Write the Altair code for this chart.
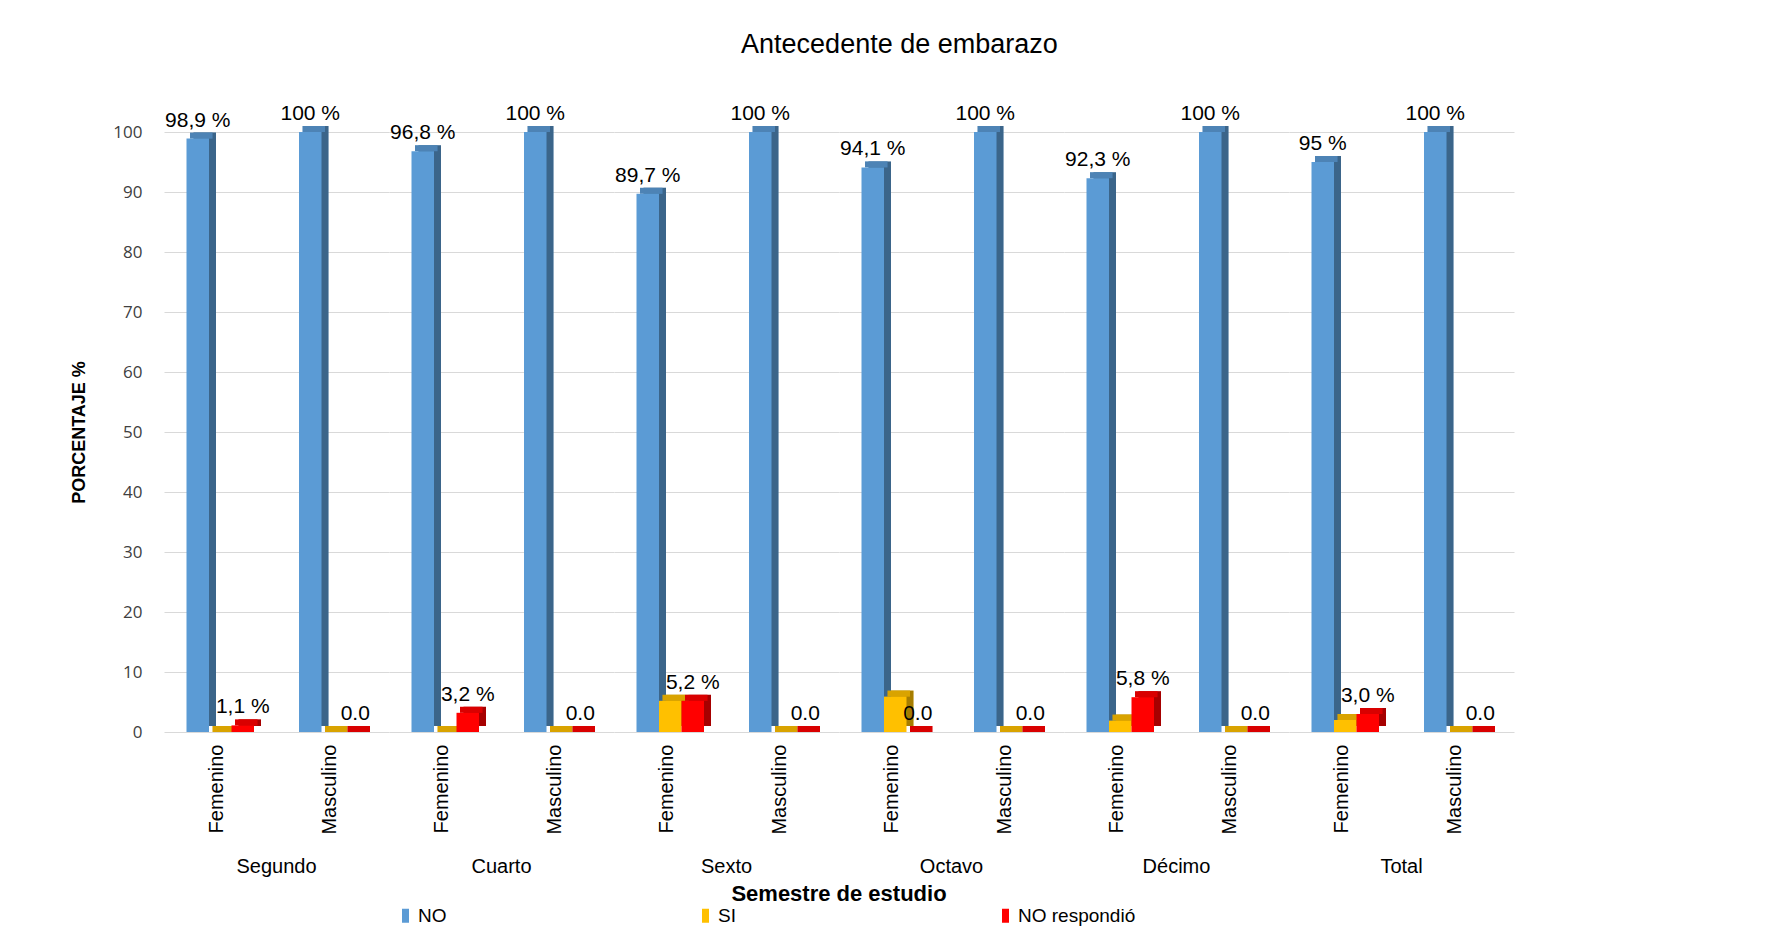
import altair as alt
import pandas as pd

semesters = ["Segundo", "Cuarto", "Sexto", "Octavo", "Décimo", "Total"]
sexes = ["Femenino", "Masculino"]
series = ["NO", "SI", "NO respondió"]
colors = ["#5B9BD5", "#FFC000", "#FF0000"]

# one value per (semester, sex), in order Segundo-F, Segundo-M, Cuarto-F, ...
no_vals = [98.9, 100, 96.8, 100, 89.7, 100, 94.1, 100, 92.3, 100, 95, 100]
si_vals = [0, 0, 0, 0, 5.2, 0, 5.9, 0, 1.9, 0, 2.0, 0]
nr_vals = [1.1, 0, 3.2, 0, 5.2, 0, 0, 0, 5.8, 0, 3.0, 0]
no_labels = ["98,9 %", "100 %", "96,8 %", "100 %", "89,7 %", "100 %",
             "94,1 %", "100 %", "92,3 %", "100 %", "95 %", "100 %"]
nr_labels = ["1,1 %", "0.0", "3,2 %", "0.0", "5,2 %", "0.0",
             "0.0", "0.0", "5,8 %", "0.0", "3,0 %", "0.0"]

rows = []
for si, sem in enumerate(semesters):
    for xi, sex in enumerate(sexes):
        i = 2 * si + xi
        vals = [no_vals[i], si_vals[i], nr_vals[i]]
        labs = [no_labels[i], "", nr_labels[i]]
        for k, ser in enumerate(series):
            rows.append({"semestre": sem, "sexo": sex, "serie": ser,
                         "key": sex + "|" + ser, "valor": vals[k], "label": labs[k]})
df = pd.DataFrame(rows)

x_domain = ["Femenino|NO", "Femenino|SI", "Femenino|NO respondió", "gapA", "gapB",
            "Masculino|NO", "Masculino|SI", "Masculino|NO respondió"]

FONT = "Liberation Sans"

x_enc = alt.X("key:N",
              scale=alt.Scale(domain=x_domain, paddingInner=0, paddingOuter=1),
              axis=alt.Axis(title=None, domain=False, ticks=False, grid=False,
                            labelAngle=-90, labelFontSize=20, labelFont=FONT,
                            labelColor="black", labelPadding=12, labelOffset=-3,
                            labelExpr="indexof(datum.label, '|SI') > 0 ? split(datum.label, '|')[0] : ''"))
y_enc = alt.Y("valor:Q",
              scale=alt.Scale(domain=[0, 100]),
              axis=alt.Axis(title="PORCENTAJE %", values=list(range(0, 101, 10)),
                            domain=False, ticks=False, grid=True, gridColor="#D9D9D9",
                            labelFontSize=17, labelFont="Open Sans", labelColor="#404040",
                            labelPadding=22, titleFontSize=18, titleFont=FONT,
                            titleFontWeight="bold", titleColor="black", titlePadding=24))
color_enc = alt.Color("serie:N",
                      scale=alt.Scale(domain=series, range=colors),
                      legend=alt.Legend(title=None, orient="none", direction="horizontal",
                                        legendX=232, legendY=774,
                                        labelFontSize=19, labelFont=FONT, labelColor="black",
                                        symbolType="M-0.5,-1H0.5V1H-0.5Z", symbolSize=196,
                                        symbolStrokeWidth=0, columnPadding=160,
                                        gridAlign="all", labelOffset=3))

base = alt.Chart().encode(x=x_enc, y=y_enc)

side = base.mark_bar(xOffset=7, yOffset=-6).encode(color=color_enc)
side_dark = base.mark_bar(xOffset=7, yOffset=-6, color="black", opacity=0.35)
top = base.mark_bar(xOffset=3.5, yOffset=-6).encode(y2="valor:Q", color=color_enc)
top_dark = base.mark_bar(xOffset=3.5, yOffset=-6, color="black", opacity=0.15).encode(y2="valor:Q")
front = base.mark_bar().encode(color=color_enc)
labels = base.mark_text(dy=-12, baseline="alphabetic", fontSize=21, font=FONT,
                        color="black").encode(text="label:N").transform_filter("datum.label != ''")

layered = alt.layer(side, side_dark, top, top_dark, front, labels, data=df).properties(
    width=225, height=600)

chart = layered.facet(
    column=alt.Column("semestre:N", sort=semesters,
                      header=alt.Header(title="Semestre de estudio", labelOrient="bottom",
                                        titleOrient="bottom", labelFontSize=20, labelFont=FONT,
                                        labelColor="black", labelPadding=23,
                                        titleFontSize=22, titleFont=FONT, titleFontWeight="bold",
                                        titleColor="black", titlePadding=-4)),
    spacing=0,
).properties(
    title=alt.TitleParams("Antecedente de embarazo", fontSize=27, font=FONT,
                          fontWeight="normal", color="black", anchor="middle", dx=107, offset=44),
    padding={"left": 62, "top": 23, "right": 10, "bottom": 0},
).configure_view(stroke=None)

chart.save("out.html", embed_options={"renderer": "svg", "actions": False})
